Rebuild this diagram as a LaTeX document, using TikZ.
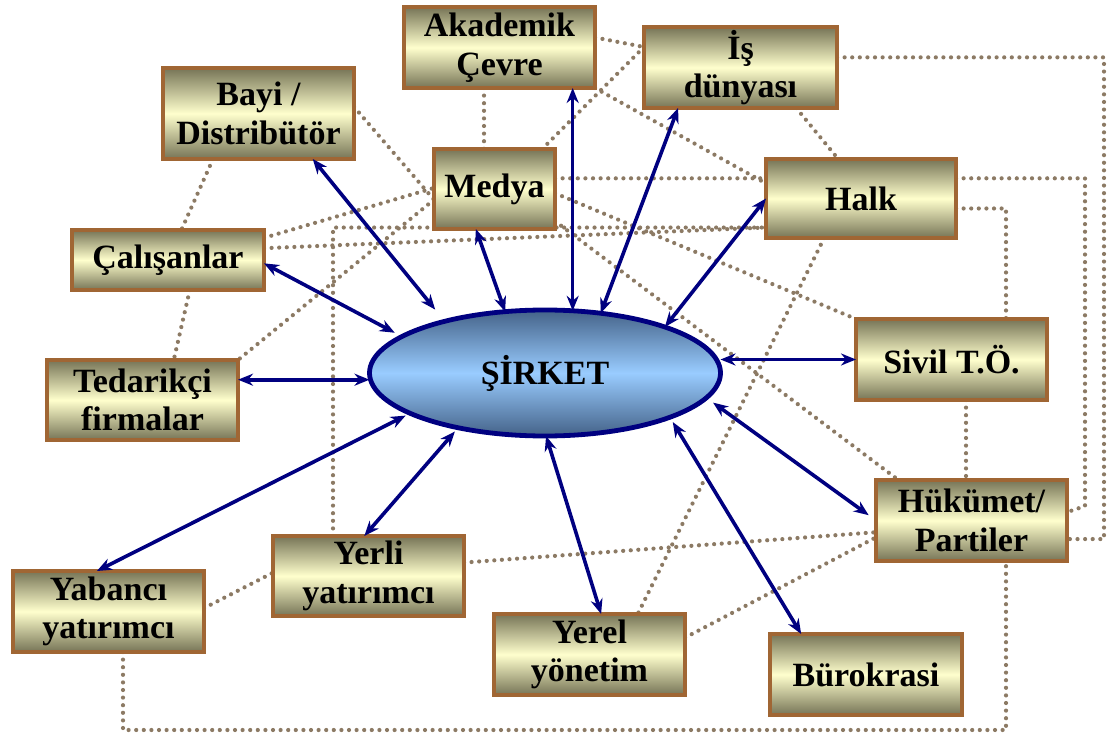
\documentclass[tikz,border=0pt]{standalone}
\usepackage{fontspec}
\setmainfont{Liberation Serif}
\usetikzlibrary{arrows.meta,calc,backgrounds,shapes.geometric}
\definecolor{boxbrd}{RGB}{160,102,52}
\definecolor{boxdark}{RGB}{118,116,86}
\definecolor{boxlight}{RGB}{255,255,205}
\definecolor{navyc}{RGB}{0,0,128}
\definecolor{dotc}{RGB}{140,122,100}
\definecolor{elltop}{RGB}{68,98,136}
\definecolor{ellmid}{RGB}{153,204,255}
\begin{document}
\begin{tikzpicture}[x=1pt,y=-1pt,
  stake/.style={draw=boxbrd, line width=4.8pt, top color=boxdark, bottom color=boxdark, middle color=boxlight,
    minimum width=191pt, minimum height=81pt, inner sep=0pt, outer sep=0pt, align=center,
    font=\fontsize{34}{38.5}\selectfont\bfseries},
  link/.style={dotc, line width=4.2pt, line cap=round, dash pattern=on 0pt off 7.6pt},
  arr/.style={navyc, line width=3.6pt, {Stealth[length=15pt,width=12pt]}-{Stealth[length=15pt,width=12pt]}}]
\useasboundingbox (0,0) rectangle (1119,738);

\node[stake] (akad) at (499.5,47.5) {Akademik\\Çevre};
\node[stake, minimum width=193pt] (is) at (740.5,67.5) {İş\\dünyası};
\node[stake, minimum height=91pt] (bayi) at (258.5,113.5) {Bayi /\\Distribütör};
\node[stake, minimum width=121pt, minimum height=80pt] (medya) at (494.5,189) {Medya};
\node[stake, minimum width=190pt, minimum height=79pt] (halk) at (861,198.5) {Halk};
\node[stake, minimum width=192pt, minimum height=60pt] (calis) at (168,260) {Çalışanlar};
\node[stake] (sivil) at (951.5,359.5) {Sivil T.Ö.};
\node[stake, minimum height=80pt] (tedar) at (142.5,400) {Tedarikçi\\firmalar};
\node[stake] (hukumet) at (971.5,520.5) {Hükümet/\\Partiler};
\node[stake, minimum height=80pt] (yerli) at (368.5,576) {Yerli\\yatırımcı};
\node[stake] (yabanci) at (108.5,611.5) {Yabancı\\yatırımcı};
\node[stake] (yerel) at (589.5,654.5) {Yerel\\yönetim};
\node[stake, minimum width=192pt] (buro) at (866,674.5) {Bürokrasi};
\node[ellipse, draw=navyc, line width=4.8pt, top color=elltop, bottom color=elltop, middle color=ellmid,
  minimum width=351pt, minimum height=126pt, inner sep=0pt, outer sep=0pt,
  font=\fontsize{34}{38.5}\selectfont\bfseries] (sirket) at (545,373) {ŞİRKET};

\coordinate (akb) at ([xshift=-15.5pt]akad.south);
\coordinate (hr1) at ([xshift=37pt]hukumet.-11);
\coordinate (hr2) at ([xshift=18pt,yshift=6pt]hukumet.5);
\coordinate (sv1) at ([xshift=54.5pt]sivil.north);
\coordinate (sv2) at ([xshift=14.5pt]sivil.south);
\coordinate (yl) at ([xshift=-35.5pt]yerli.north);
\coordinate (yb) at ([xshift=14.5pt]yabanci.south);
\coordinate (hb) at ([xshift=34.5pt]hukumet.south);

\begin{scope}[on background layer]
\fill[white] (0,0) rectangle (1119,738);
\draw[link] (akad.6) -- (is.168);
\draw[link] (akb) -- (akb |- medya.north);
\draw[link] (akad.south east) -- (halk.171);
\draw[link] (is.168) -- (medya.40);
\draw[link] (is.-36) -- (halk.120);
\draw[link] (is.6) -| (hr1) -- (hukumet.-11);
\draw[link] (halk.12) -| (hr2) -- (hukumet.5);
\draw[link] (halk.-6) -| (sv1);
\draw[link] (sv2) -- (sv2 |- hukumet.north);
\draw[link] (medya.10) -- (medya.10 -| halk.west);
\draw[link] (medya.-4) -- (sivil.north west);
\draw[link] (medya.-28) -- (hukumet.151);
\draw[link] (bayi.4) -- (medya.190);
\draw[link] (bayi.-135) -- (calis.66);
\draw[link] (calis.-54) -- (tedar.52);
\draw[link] (calis.13) -- (medya.179);
\draw[link] (calis.7) -- (halk.197);
\draw[link] (yl) |- (halk.197);
\draw[link] (medya.190) -- (tedar.north east);
\draw[link] (halk.-133) -- (yerel.40);
\draw[link] (yerli.8) -- (hukumet.187);
\draw[link] (yerel.10) -- (hukumet.190);
\draw[link] (yabanci.2) -- (yerli.178);
\draw[link] (yb) -- ++(0,78) -| (hb);
\end{scope}

\coordinate (ak4) at (sirket.66);
\draw[arr] (bayi.-40) -- ($(sirket.center)!1.185!(sirket.150)$);
\draw[arr] (calis.-2) -- ($(sirket.center)!1.068!(sirket.165)$);
\draw[arr] (medya.-115) -- (sirket.123);
\draw[arr] (ak4 |- akad.south) -- (ak4);
\draw[arr] (is.213) -- (sirket.47);
\draw[arr] (halk.180) -- (sirket.21);
\draw[arr] (sivil.west) -- (sivil.west -| sirket.east);
\draw[arr] (tedar.12) -- (tedar.12 -| sirket.west);
\draw[arr, shorten <=9pt] (hukumet.180) -- ($(sirket.center)!1.067!(sirket.-10)$);
\draw[arr] (buro.148) -- ($(sirket.center)!1.066!(sirket.-21)$);
\draw[arr] (yerel.74) -- (sirket.-89);
\draw[arr] (yerli.96) -- ($(sirket.center)!1.061!(sirket.213)$);
\draw[arr] (yabanci.106) -- ($(sirket.center)!1.043!(sirket.197)$);
\end{tikzpicture}
\end{document}
